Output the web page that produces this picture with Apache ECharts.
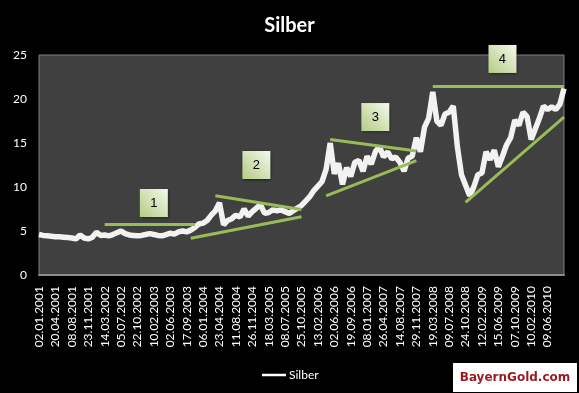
<!DOCTYPE html>
<html>
<head>
<meta charset="utf-8">
<script src="https://cdn.jsdelivr.net/npm/echarts@6/dist/echarts.min.js"></script>
<style>
html,body{margin:0;padding:0;background:#000;}
#c{width:579px;height:393px;}
</style>
</head>
<body>
<div id="c"></div>
<script>
// Tick labels (every 4th category)
const tickLabels = [
  '02.01.2001','20.04.2001','08.08.2001','23.11.2001','14.03.2002','05.07.2002',
  '22.10.2002','10.02.2003','02.06.2003','17.09.2003','06.01.2004','23.04.2004',
  '11.08.2004','26.11.2004','18.03.2005','08.07.2005','25.10.2005','13.02.2006',
  '02.06.2006','19.09.2006','08.01.2007','26.04.2007','14.08.2007','29.11.2007',
  '19.03.2008','09.07.2008','24.10.2008','12.02.2009','15.06.2009','07.10.2009',
  '10.02.2010','09.06.2010'
];
const pointsPerTick = 4;

// Silver price (USD/oz)
const silber = [
  4.60, 4.50, 4.45, 4.40,   4.35, 4.35, 4.30, 4.25,
  4.20, 4.10, 4.55, 4.20,   4.10, 4.30, 4.85, 4.50,
  4.55, 4.45, 4.60, 4.80,   5.00, 4.70, 4.55, 4.50,
  4.45, 4.50, 4.60, 4.70,   4.60, 4.50, 4.45, 4.60,
  4.75, 4.65, 4.90, 5.00,   4.90, 5.10, 5.40, 5.80,
  5.90, 6.20, 6.80, 7.30,   8.20, 5.70, 6.20, 6.40,
  6.80, 6.60, 7.50, 6.70,   7.20, 7.60, 8.00, 7.00,
  7.10, 7.40, 7.30, 7.40,   7.20, 7.00, 7.30, 7.60,
  7.90, 8.40, 8.90, 9.60,   10.1, 10.6, 12.0, 15.0,
  11.5, 12.7, 10.3, 12.2,   11.2, 12.8, 13.0, 11.8,
  13.5, 12.6, 14.0, 14.6,   13.4, 14.0, 13.2, 13.4,
  12.8, 11.8, 13.3, 13.5,   15.6, 14.0, 16.8, 17.8,
  20.8, 17.5, 17.0, 18.3,   18.5, 19.2, 14.6, 11.4,
  10.2, 9.00, 10.0, 11.4,   11.6, 14.0, 13.1, 14.2,
  12.3, 13.5, 14.8, 15.6,   17.6, 17.0, 18.5, 18.0,
  15.4, 16.6, 17.8, 19.2,   18.8, 19.1, 18.8, 19.4,
  21.2
];

// Hand-drawn trend lines: [category index, value] pairs
const trendLines = [
  [[15.9, 5.8], [37.9, 5.8]],
  [[36.7, 4.17], [63.8, 6.63]],
  [[43.0, 9.0], [63.8, 7.45]],
  [[71.4, 15.4], [91.9, 14.1]],
  [[70.1, 9.0], [91.9, 13.0]],
  [[96.2, 21.5], [128, 21.5]],
  [[104.0, 8.26], [128, 17.95]]
];

// Numbered boxes: label and [category index, value]
const boxLabels = ['1', '2', '3', '4'];
const boxPositions = [[28.1, 8.18], [52.8, 12.5], [82.2, 17.95], [113.2, 24.55]];

const categories = silber.map((v, i) =>
  (i % pointsPerTick === 0 && tickLabels[i / pointsPerTick]) ? tickLabels[i / pointsPerTick] : '');

const chart = echarts.init(document.getElementById('c'), null, {renderer: 'canvas'});
chart.setOption({
  backgroundColor: '#000000',
  animation: false,
  title: {
    text: 'Silber',
    left: 'center',
    top: 11,
    textStyle: {color: '#ffffff', fontSize: 20, fontWeight: 'bold', fontFamily: 'Lato'}
  },
  legend: {
    data: ['Silber'],
    left: 262,
    top: 369,
    padding: 0,
    itemWidth: 24,
    itemHeight: 10,
    itemGap: 4,
    textStyle: {color: '#ffffff', fontSize: 12, fontFamily: 'Lato', padding: [0, 0, 0, -2]},
    icon: 'path://M0,4 L24,4 L24,6.5 L0,6.5 Z',
    itemStyle: {color: '#ffffff'}
  },
  grid: {
    left: 39, right: 15, top: 55, bottom: 118,
    show: true,
    backgroundColor: '#404040',
    borderColor: '#808080',
    borderWidth: 1
  },
  xAxis: {
    type: 'category',
    data: categories,
    boundaryGap: false,
    axisLine: {show: true, lineStyle: {color: '#8a8a8a', width: 2}},
    axisTick: {show: false},
    axisLabel: {
      interval: pointsPerTick - 1,
      rotate: 90,
      color: '#ffffff',
      fontSize: 12,
      fontFamily: 'Lato',
      margin: 11
    },
    splitLine: {show: false}
  },
  yAxis: {
    type: 'value',
    min: 0, max: 25, interval: 5,
    axisLine: {show: false},
    axisTick: {show: false},
    splitLine: {show: false},
    axisLabel: {color: '#ffffff', fontSize: 12, fontFamily: 'Lato', margin: 12}
  },
  series: [{
    name: 'Silber',
    type: 'line',
    data: silber,
    symbol: 'none',
    clip: false,
    lineStyle: {color: '#f2f2f2', width: 5.5},
    itemStyle: {color: '#ffffff'},
    z: 3,
    markLine: {
      silent: true,
      symbol: ['none', 'none'],
      label: {show: false},
      lineStyle: {color: '#9bbb59', width: 3, type: 'solid'},
      data: trendLines.map(seg => [{coord: seg[0]}, {coord: seg[1]}]),
      z: 4
    },
    markPoint: {
      silent: true,
      symbol: 'rect',
      symbolSize: [28, 28],
      itemStyle: {
        color: new echarts.graphic.LinearGradient(0, 1, 1, 0, [
          {offset: 0, color: '#b4cc84'},
          {offset: 1, color: '#f4f8ec'}
        ]),
        shadowColor: 'rgba(0,0,0,0.6)',
        shadowBlur: 3,
        shadowOffsetX: 1,
        shadowOffsetY: 1
      },
      label: {
        show: true,
        position: 'inside',
        color: '#000000',
        fontSize: 13,
        fontFamily: 'Liberation Sans',
        formatter: p => p.name
      },
      data: boxLabels.map((t, k) => ({name: t, coord: boxPositions[k]}))
    }
  }],
  graphic: [{
    type: 'group',
    left: 453,
    top: 363,
    children: [
      {type: 'rect', shape: {x: 0, y: 0, width: 124, height: 29}, style: {fill: '#ffffff'}},
      {type: 'text', x: 62, y: 15, style: {
        text: 'BayernGold.com', fill: '#9a1a1f', font: 'bold 12px "DejaVu Sans"',
        align: 'center', verticalAlign: 'middle'
      }}
    ]
  }]
});
</script>
</body>
</html>
